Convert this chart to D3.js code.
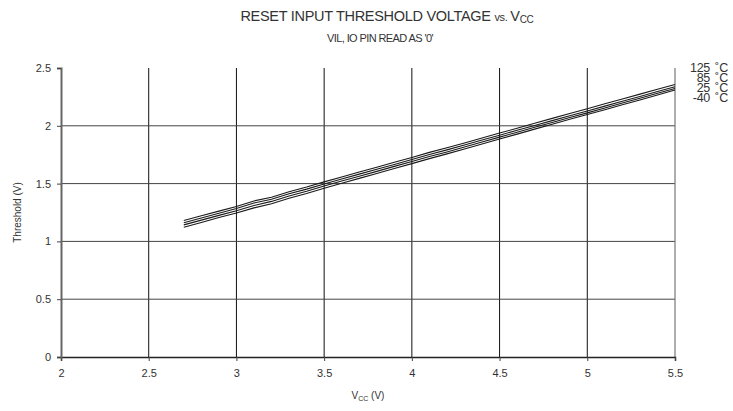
<!DOCTYPE html>
<html lang="en">
<head>
<meta charset="utf-8">
<title>Reset input threshold voltage vs. Vcc</title>
<script src="https://d3js.org/d3.v7.min.js"></script>
<style>
  body { margin: 0; background: #fff; }
  svg text { font-family: "Liberation Sans", Arial, sans-serif; fill: #333; }
  .axis text { font-size: 11px; fill: #333; }
</style>
</head>
<body>
<script>
const width = 733;
const height = 411;
const margin = {top: 68, right: 58, bottom: 54, left: 61};

// data
const vcc = [2.7, 2.8, 2.9, 3.0, 3.1, 3.2, 3.3, 3.4, 3.5, 3.6, 3.7, 3.8, 3.9, 4.0, 4.1,
             4.2, 4.3, 4.4, 4.5, 4.6, 4.7, 4.8, 4.9, 5.0, 5.1, 5.2, 5.3, 5.4, 5.5];
const t125 = [1.180, 1.222, 1.262, 1.302, 1.350, 1.382, 1.430, 1.470, 1.515, 1.557, 1.600, 1.642, 1.684, 1.726, 1.770,
              1.810, 1.852, 1.895, 1.937, 1.979, 2.022, 2.064, 2.106, 2.147, 2.190, 2.232, 2.274, 2.316, 2.358];
const t85  = [1.162, 1.203, 1.244, 1.284, 1.332, 1.364, 1.412, 1.452, 1.497, 1.540, 1.582, 1.624, 1.666, 1.709, 1.752,
              1.792, 1.834, 1.877, 1.919, 1.961, 2.003, 2.045, 2.087, 2.128, 2.170, 2.212, 2.254, 2.296, 2.337];
const t25  = [1.143, 1.184, 1.225, 1.265, 1.311, 1.346, 1.393, 1.434, 1.479, 1.522, 1.564, 1.606, 1.649, 1.691, 1.734,
              1.774, 1.816, 1.860, 1.902, 1.944, 1.987, 2.029, 2.071, 2.112, 2.154, 2.197, 2.239, 2.281, 2.323];
const tm40 = [1.122, 1.164, 1.206, 1.246, 1.290, 1.326, 1.373, 1.414, 1.460, 1.503, 1.545, 1.588, 1.631, 1.673, 1.716,
              1.757, 1.799, 1.843, 1.886, 1.928, 1.971, 2.013, 2.056, 2.097, 2.139, 2.182, 2.224, 2.266, 2.310];
const seriesNames = ["125", "85", "25", "-40"];
const seriesValues = [t125, t85, t25, tm40];
const xTicks = [2, 2.5, 3, 3.5, 4, 4.5, 5, 5.5];
const yTicks = [0, 0.5, 1, 1.5, 2, 2.5];

const x = d3.scaleLinear().domain([2, 5.5]).range([margin.left, width - margin.right]);
const y = d3.scaleLinear().domain([0, 2.5]).range([height - margin.bottom, margin.top]);

const svg = d3.select("body").append("svg")
    .attr("width", width)
    .attr("height", height);

// grid
svg.append("g")
    .selectAll("line")
    .data(xTicks.slice(1, -1))
    .join("line")
    .attr("x1", d => x(d)).attr("x2", d => x(d))
    .attr("y1", y(2.5)).attr("y2", y(0))
    .attr("stroke", "#111")
    .attr("stroke-width", 1);

svg.append("g")
    .selectAll("line")
    .data(yTicks.slice(1, -1))
    .join("line")
    .attr("x1", x(2)).attr("x2", x(5.5))
    .attr("y1", d => y(d)).attr("y2", d => y(d))
    .attr("stroke", "#444")
    .attr("stroke-width", 1);

// right border
svg.append("line")
    .attr("x1", x(5.5)).attr("x2", x(5.5))
    .attr("y1", y(2.5)).attr("y2", y(0))
    .attr("stroke", "#777")
    .attr("stroke-width", 1.2);

// axes
const bottomAxis = d3.axisBottom(x).tickValues(xTicks).tickSize(4).tickPadding(8).tickFormat(d3.format("~g"));
const leftAxis = d3.axisLeft(y).tickValues(yTicks).tickSize(4).tickPadding(6).tickFormat(d3.format("~g"));

svg.append("g")
    .attr("class", "axis")
    .attr("transform", "translate(0," + y(0) + ")")
    .call(bottomAxis)
    .call(g => g.select(".domain").attr("stroke", "#222").attr("stroke-width", 1.5))
    .call(g => g.selectAll(".tick line").attr("stroke", "#444"));

svg.append("g")
    .attr("class", "axis")
    .attr("transform", "translate(" + x(2) + ",0)")
    .call(leftAxis)
    .call(g => g.select(".domain").attr("stroke", "#666").attr("stroke-width", 2))
    .call(g => g.selectAll(".tick line").attr("stroke", "#444"));

// lines
const line = d3.line()
    .x((d, i) => x(vcc[i]))
    .y(d => y(d));

svg.append("g")
    .selectAll("path")
    .data(seriesValues)
    .join("path")
    .attr("d", d => line(d))
    .attr("fill", "none")
    .attr("stroke", "#1a1a1a")
    .attr("stroke-width", 1.1);

// legend (right side), tightly stacked like the original
const legend = svg.append("g");
legend.selectAll("text.num")
    .data(seriesNames)
    .join("text")
    .attr("class", "num")
    .attr("x", 710)
    .attr("y", (d, i) => 72 + i * 10)
    .attr("text-anchor", "end")
    .attr("font-size", "12.5px")
    .attr("letter-spacing", "-0.3px")
    .text(d => d);
legend.selectAll("text.unit")
    .data(seriesNames)
    .join("text")
    .attr("class", "unit")
    .attr("x", 715)
    .attr("y", (d, i) => 72 + i * 10)
    .attr("font-size", "12.5px")
    .text("˚C");

// titles
const title = svg.append("text")
    .attr("x", 387)
    .attr("y", 21)
    .attr("text-anchor", "middle")
    .attr("font-size", "14.5px")
    .attr("letter-spacing", "-0.3px");
title.append("tspan").text("RESET INPUT THRESHOLD VOLTAGE ");
title.append("tspan").attr("font-size", "11px").text("vs. ");
title.append("tspan").text("V");
title.append("tspan").attr("font-size", "10px").attr("dy", 2).text("CC");

svg.append("text")
    .attr("x", 380)
    .attr("y", 42)
    .attr("text-anchor", "middle")
    .attr("font-size", "11px")
    .attr("letter-spacing", "-0.6px")
    .text("VIL, IO PIN READ AS '0'");

svg.append("text")
    .attr("transform", "translate(21," + y(1.25) + ") rotate(-90)")
    .attr("text-anchor", "middle")
    .attr("font-size", "10px")
    .text("Threshold (V)");

const xlab = svg.append("text")
    .attr("x", 368)
    .attr("y", 399)
    .attr("text-anchor", "middle")
    .attr("font-size", "10px");
xlab.append("tspan").text("V");
xlab.append("tspan").attr("font-size", "7px").attr("dy", 2).text("CC");
xlab.append("tspan").attr("dy", -2).text(" (V)");
</script>
</body>
</html>
